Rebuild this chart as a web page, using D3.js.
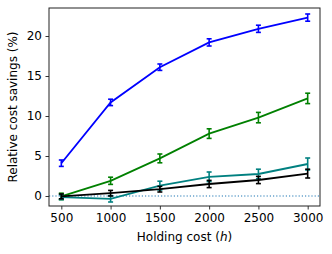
<!DOCTYPE html>
<html>
<head>
<meta charset="utf-8">
<script src="https://cdn.jsdelivr.net/npm/d3@7"></script>
<style>
  body { margin: 0; background: #fff; }
  svg { display: block; font-family: 'DejaVu Sans', sans-serif; }
</style>
</head>
<body>
<svg id="chart" width="332" height="254"></svg>
<script>
const holdingCosts = [500, 1000, 1500, 2000, 2500, 3000];
const blueVals = [4.1, 11.7, 16.1, 19.2, 20.9, 22.3];
const blueErr = [0.4, 0.4, 0.4, 0.45, 0.45, 0.45];
const greenVals = [-0.05, 1.9, 4.7, 7.8, 9.8, 12.2];
const greenErr = [0.4, 0.45, 0.55, 0.6, 0.65, 0.65];
const tealVals = [-0.15, -0.35, 1.3, 2.4, 2.75, 4.0];
const tealErr = [0.3, 0.4, 0.55, 0.6, 0.6, 0.75];
const blackVals = [-0.05, 0.35, 0.85, 1.5, 2.0, 2.8];
const blackErr = [0.3, 0.35, 0.35, 0.45, 0.45, 0.55];
const yTicks = [0, 5, 10, 15, 20];

let series = [
  {vals: blueVals, err: blueErr, color: '#0000ff'},
  {vals: greenVals, err: greenErr, color: '#008000'},
  {vals: tealVals, err: tealErr, color: '#008080'},
  {vals: blackVals, err: blackErr, color: '#000000'}
];

let plotLeft = 49;
let plotRight = 320;
let plotTop = 8;
let plotBottom = 206;

const svg = d3.select('#chart');

let x = d3.scaleLinear().domain([375, 3125]).range([plotLeft, plotRight]);
let y = d3.scaleLinear().domain([-1.25, 23.5]).range([plotBottom, plotTop]);

// zero reference line
svg.append('line')
  .attr('x1', plotLeft)
  .attr('x2', plotRight)
  .attr('y1', y(0))
  .attr('y2', y(0))
  .style('stroke', '#1f77b4')
  .style('stroke-width', 1.2)
  .style('stroke-dasharray', '1.2,2');

let line = d3.line()
  .x(function (d, i) { return x(holdingCosts[i]); })
  .y(function (d) { return y(d); });

series.forEach(function (s) {
  let g = svg.append('g');
  g.append('path')
    .attr('d', line(s.vals))
    .style('fill', 'none')
    .style('stroke', s.color)
    .style('stroke-width', 1.8);
  s.vals.forEach(function (v, i) {
    let cx = x(holdingCosts[i]);
    let y1 = y(v - s.err[i]);
    let y2 = y(v + s.err[i]);
    g.append('line')
      .attr('x1', cx).attr('x2', cx)
      .attr('y1', y1).attr('y2', y2)
      .style('stroke', s.color).style('stroke-width', 1.6);
    [y1, y2].forEach(function (cy) {
      g.append('line')
        .attr('x1', cx - 2.5).attr('x2', cx + 2.5)
        .attr('y1', cy).attr('y2', cy)
        .style('stroke', s.color).style('stroke-width', 1.6);
    });
  });
});

// axes
let xAxis = d3.axisBottom(x).tickValues(holdingCosts).tickFormat(d3.format('d'))
  .tickSize(3.5).tickPadding(3.5);
let yAxis = d3.axisLeft(y).tickValues(yTicks).tickFormat(d3.format('d'))
  .tickSize(3.5).tickPadding(3.5);

let gx = svg.append('g')
  .attr('transform', 'translate(0,' + plotBottom + ')')
  .call(xAxis);
let gy = svg.append('g')
  .attr('transform', 'translate(' + plotLeft + ',0)')
  .call(yAxis);

[gx, gy].forEach(function (g) {
  g.select('.domain').remove();
  g.selectAll('text').style('font-size', '12px').style('fill', '#000').style('font-family', 'DejaVu Sans');
  g.selectAll('line').style('stroke', '#000').style('stroke-width', 0.8);
});

// frame
svg.append('rect')
  .attr('x', plotLeft)
  .attr('y', plotTop)
  .attr('width', plotRight - plotLeft)
  .attr('height', plotBottom - plotTop)
  .style('fill', 'none')
  .style('stroke', '#222')
  .style('stroke-width', 1);

let xLabel = svg.append('text')
  .attr('x', (plotLeft + plotRight) / 2)
  .attr('y', 241)
  .attr('text-anchor', 'middle')
  .style('font-size', '12px');
xLabel.append('tspan').text('Holding cost (');
xLabel.append('tspan').style('font-style', 'italic').text('h');
xLabel.append('tspan').text(')');

svg.append('text')
  .attr('transform', 'translate(17,' + ((plotTop + plotBottom) / 2) + ') rotate(-90)')
  .attr('text-anchor', 'middle')
  .style('font-size', '12px')
  .text('Relative cost savings (%)');
</script>
</body>
</html>
